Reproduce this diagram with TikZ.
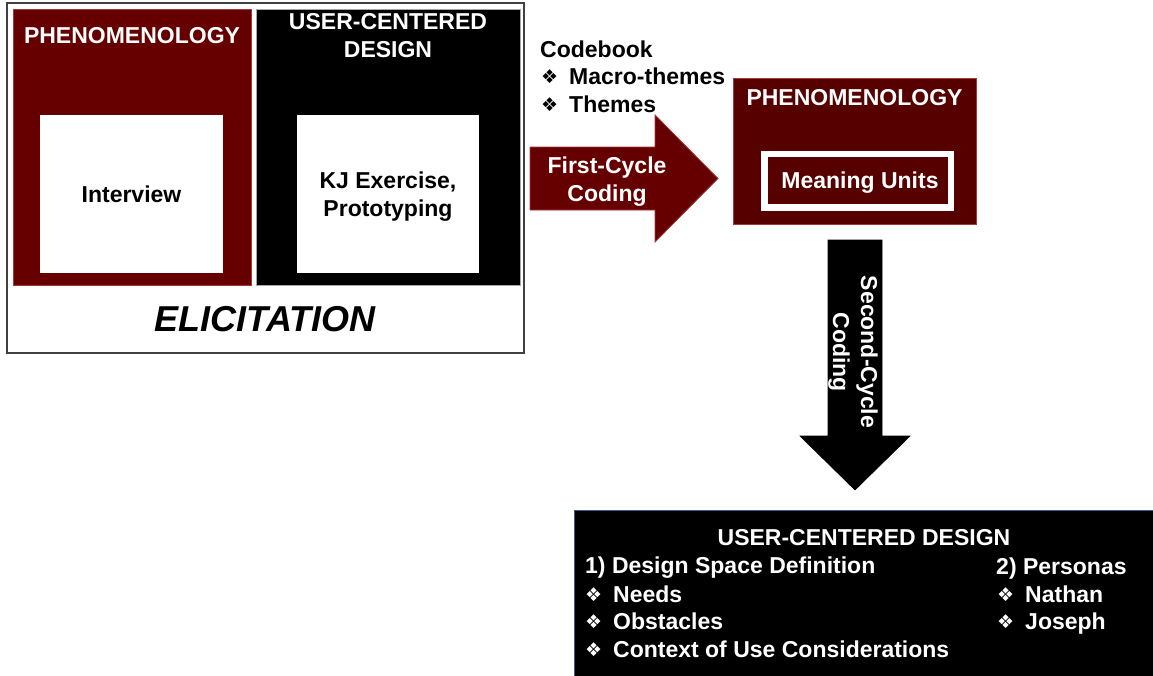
\documentclass[tikz,border=0pt]{standalone}
\usepackage{fontspec}
\setmainfont{Liberation Sans}
\newfontfamily\symfont{DejaVu Sans}
\definecolor{phenred}{HTML}{660000}
\definecolor{phendark}{HTML}{560000}
\definecolor{phenedge}{HTML}{A33A3A}
\definecolor{frame}{HTML}{404040}
\definecolor{bluedge}{HTML}{3C5A8C}
\newcommand{\dia}{\makebox[28pt][l]{\raisebox{1pt}{\symfont\fontsize{19}{19}\selectfont ❖}}}
\begin{document}
\begin{tikzpicture}[x=1pt,y=-1pt,
  blockbox/.style={rectangle, inner sep=0pt, outer sep=0pt, anchor=north west},
  whitetxt/.style={text=white, font=\bfseries\fontsize{23}{28}\selectfont, align=center, inner sep=0pt},
  blacktxt/.style={text=black, font=\bfseries\fontsize{23}{28}\selectfont, align=center, inner sep=0pt},
  oneline/.style={text height=16.5pt, text depth=0pt},
  listtxt/.style={text=white, font=\bfseries\fontsize{23}{28}\selectfont, anchor=west, inner sep=0pt, oneline},
  codetxt/.style={text=black, font=\bfseries\fontsize{23}{28}\selectfont, anchor=west, inner sep=0pt, oneline},
  blockarrow/.style={line join=miter}]
\useasboundingbox (0,0) rectangle (1153,675);

% Elicitation frame with its two method panels
\node[blockbox, draw=frame, line width=1.3pt, fill=white, minimum width=517pt, minimum height=350pt] (elic) at (7,3) {};
\node[blockbox, draw=phenedge, line width=0.8pt, fill=phenred, minimum width=238pt, minimum height=276pt] (phenA) at (13,9) {};
\node[blockbox, fill=white, minimum width=183pt, minimum height=158pt] (interview) at (40,115) {};
\node[blockbox, draw=gray!70, line width=0.8pt, fill=black, minimum width=264pt, minimum height=276pt] (ucdA) at (256,9) {};
\node[blockbox, fill=white, minimum width=182pt, minimum height=158pt] (kj) at (297,115) {};

\node[whitetxt, oneline] (phenAt) at (132,35) {PHENOMENOLOGY};
\node[whitetxt] (ucdAt) at (388,35.5) {USER-CENTERED\\DESIGN};
\node[blacktxt, oneline] (interviewt) at (131.5,194) {Interview};
\node[blacktxt] (kjt) at (388,197) {KJ Exercise,\\Prototyping};
\node[inner sep=0pt, text height=26pt, text depth=0pt, font=\bfseries\itshape\fontsize{36}{40}\selectfont] (elict) at (265,318) {ELICITATION};

% Codebook list
\node[codetxt] (cb) at (540,49) {Codebook};
\node[codetxt] (cb1) at (541,76) {\dia Macro-themes};
\node[codetxt] (cb2) at (541,104) {\dia Themes};

% First-cycle coding arrow
\coordinate (fa) at (530,178.5);
\coordinate (fb) at (718,178.5);
\filldraw[blockarrow, fill=phenred, draw=phenedge, line width=0.8pt]
  (fa) ++(0,-31.5) -- (655,147) -- (655,115) -- (fb) -- (655,242) -- (655,210) -- (530,210) -- cycle;
\node[whitetxt] (fct) at (607,181.5) {First-Cycle\\Coding};

% Phenomenology analysis box
\node[blockbox, draw=phenedge, line width=0.6pt, fill=phendark, minimum width=243pt, minimum height=146pt] (phenB) at (733,78) {};
\node[whitetxt, oneline] (phenBt) at (854.5,97) {PHENOMENOLOGY};
\node[draw=white, line width=6.5pt, fill=phendark, minimum width=186.5pt, minimum height=53.5pt, inner sep=0pt, anchor=north west] (mu) at (761,150.5) {};
\node[whitetxt, oneline] (mut) at (860,180) {Meaning Units};

% Second-cycle coding arrow
\coordinate (sa) at (855,240);
\coordinate (sb) at (855,490);
\filldraw[blockarrow, fill=black, draw=black, line width=0.6pt]
  (sa) ++(-27,0) -- (882,240) -- (882,436) -- (910,436) -- (sb) -- (800,436) -- (828,436) -- cycle;
\node[whitetxt, rotate=-90] (sct) at (853,352) {Second-Cycle\\Coding};

% User-centered design outcome box
\node[blockbox, draw=bluedge, line width=0.8pt, fill=black, minimum width=600pt, minimum height=180pt] (ucdB) at (574,510) {};
\node[whitetxt, oneline] (ucdBt) at (864,537) {USER-CENTERED DESIGN};
\node[listtxt] (d0) at (585,565) {1) Design Space Definition};
\node[listtxt] (d1) at (585,594) {\dia Needs};
\node[listtxt] (d2) at (585,621) {\dia Obstacles};
\node[listtxt] (d3) at (585,649) {\dia Context of Use Considerations};
\node[listtxt] (p0) at (996,566) {2) Personas};
\node[listtxt] (p1) at (997,594) {\dia Nathan};
\node[listtxt] (p2) at (997,621) {\dia Joseph};
\end{tikzpicture}
\end{document}
